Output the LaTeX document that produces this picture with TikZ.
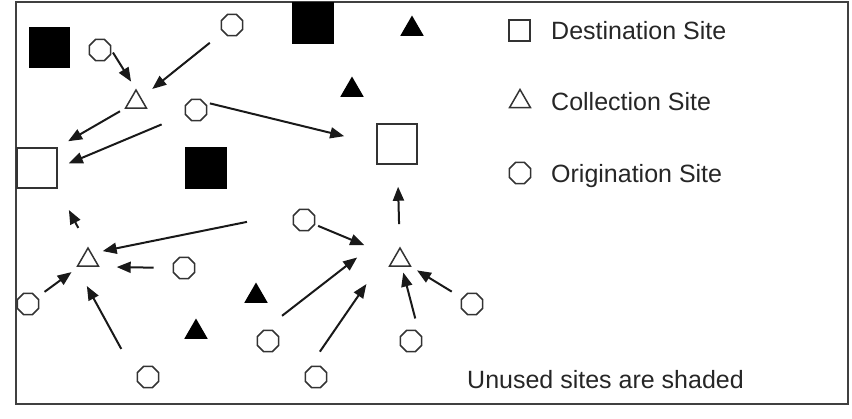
\documentclass[tikz,border=0pt]{standalone}
\usepackage{fontspec}
\setmainfont{Liberation Sans}
\usepackage{tikz}
\usetikzlibrary{arrows.meta,shapes.geometric}

\tikzset{
  dsite/.style={draw=black!80, line width=1.5pt, minimum size=40pt, inner sep=0pt},
  csite/.style={regular polygon, regular polygon sides=3, draw=black!80, line width=1.5pt, minimum size=24pt, inner sep=0pt},
  osite/.style={regular polygon, regular polygon sides=8, draw=black!80, line width=1.5pt, minimum size=23pt, inner sep=0pt},
  unused/.style={fill=black, draw=black},
  flow/.style={-{Triangle[length=14pt,width=11pt]}, line width=2pt, black!90},
  legtext/.style={anchor=base west, inner sep=0pt, text=black!85, font=\fontsize{25}{30}\selectfont}
}

\begin{document}
\begin{tikzpicture}[x=1pt, y=-1pt]
\useasboundingbox (0,0) rectangle (852,418);
\draw[line width=2.5pt, black!75] (16,2) rectangle (848,404);
% destination sites
\node[dsite] (dest1) at (37,168) {};
\node[dsite] (dest2) at (397,144) {};
\node[dsite, unused] (udest1) at (49.5,47.5) {};
\node[dsite, unused] (udest2) at (313,23) {};
\node[dsite, unused] (udest3) at (206,168) {};
% collection sites
\node[csite] (coll1) at (136,102) {};
\node[csite] (coll2) at (88,260) {};
\node[csite] (coll3) at (400,260) {};
\node[csite, unused] (ucoll1) at (412,29) {};
\node[csite, unused] (ucoll2) at (352,90) {};
\node[csite, unused] (ucoll3) at (256,296) {};
\node[csite, unused] (ucoll4) at (196,332) {};
% origination sites
\node[osite] (orig1) at (232,25) {};
\node[osite] (orig2) at (100,50) {};
\node[osite] (orig3) at (196,110) {};
\node[osite] (orig4) at (304,220) {};
\node[osite] (orig5) at (184,268) {};
\node[osite] (orig6) at (28,304) {};
\node[osite] (orig7) at (472,304) {};
\node[osite] (orig8) at (268,341) {};
\node[osite] (orig9) at (411,341) {};
\node[osite] (orig10) at (148,377) {};
\node[osite] (orig11) at (316,377) {};
% flows
\draw[flow, shorten <=3pt, shorten >=24pt] (orig2.east) -- (coll1.east);
\draw[flow, shorten <=17pt, shorten >=14pt] (orig1) -- (coll1);
\draw[flow, shorten <=5pt, shorten >=12pt] (coll1) -- (dest1.north east);
\draw[flow, shorten <=25pt, shorten >=12pt] (orig3) -- (dest1.east);
\draw[flow, shorten <=6pt, shorten >=33pt] (orig3.north east) -- (dest2.west);
\draw[flow, shorten <=23pt, shorten >=22pt] (coll3) -- (dest2);
\draw[flow, shorten <=21pt, shorten >=24pt] (coll2.north) -- (dest1.south east);
\draw[flow, shorten <=50pt, shorten >=20pt] (orig4.north west) -- (coll2.north west);
\draw[flow, shorten <=19pt, shorten >=17pt] (orig5.west) -- (coll2.330);
\draw[flow, shorten <=9pt, shorten >=9pt] (orig6) -- (coll2);
\draw[flow, shorten <=32pt, shorten >=22pt] (orig10.west) -- (coll2.210);
\draw[flow, shorten <=3pt, shorten >=32pt] (orig4) -- (coll3);
\draw[flow, shorten <=28pt, shorten >=48pt] (orig8.north west) -- ([yshift=27pt]coll3.north west);
\draw[flow, shorten <=21pt, shorten >=21pt] (orig11.north west) -- ([xshift=-10pt]coll3.210);
\draw[flow, shorten <=15pt, shorten >=6pt] (orig9.north east) -- (coll3);
\draw[flow, shorten <=12pt, shorten >=7pt] (orig7) -- (coll3);
% legend
\node[dsite, minimum size=21pt] (kdest) at (519.5,30.5) {};
\node[csite] (kcoll) at (520,101.5) {};
\node[osite] (korig) at (520,173) {};
\node[legtext] (tdest) at (551,39.5) {Destination Site};
\node[legtext] (tcoll) at (551,110) {Collection Site};
\node[legtext] (torig) at (551,182.5) {Origination Site};
\node[legtext] (tnote) at (467,388.5) {Unused sites are shaded};
\end{tikzpicture}
\end{document}
